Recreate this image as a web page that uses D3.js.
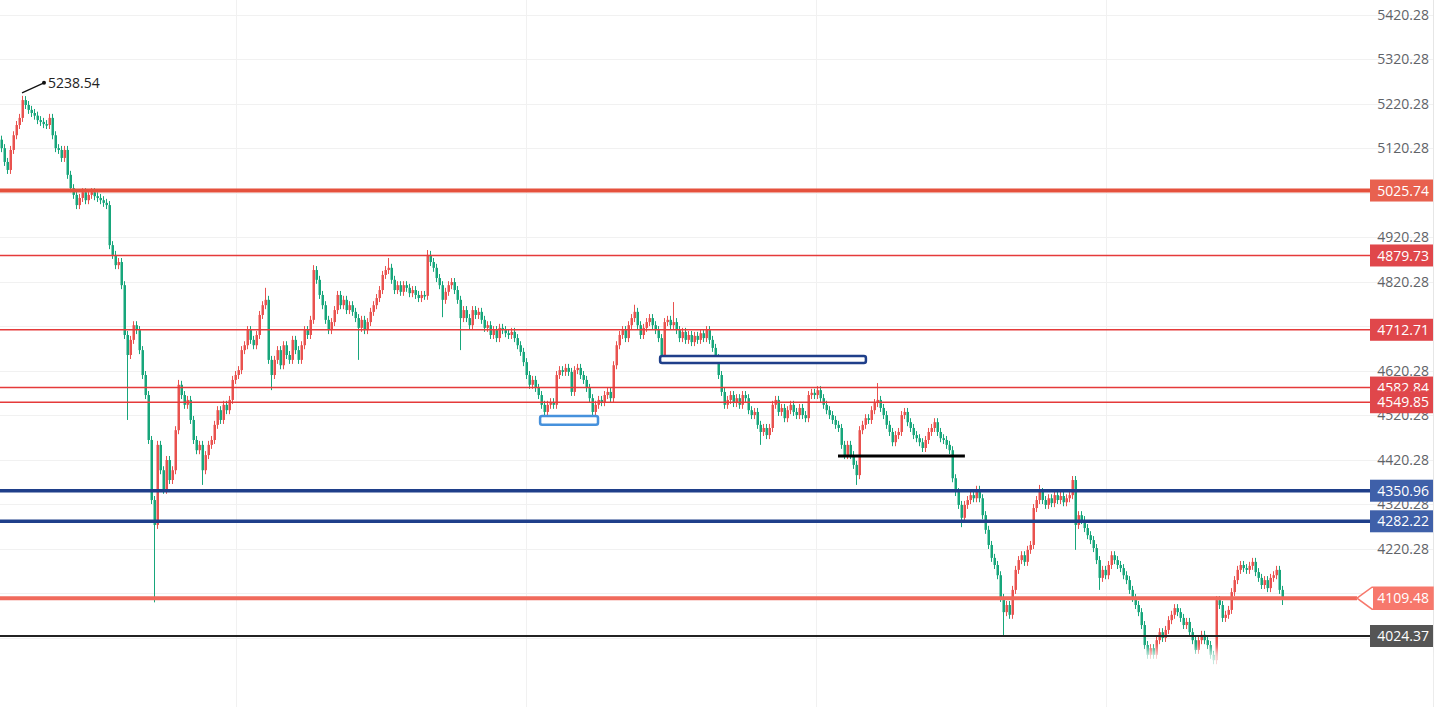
<!DOCTYPE html>
<html>
<head>
<meta charset="utf-8">
<script src="https://cdn.jsdelivr.net/npm/d3@7"></script>
<style>
  html, body { margin: 0; padding: 0; background: #fff; }
  svg { display: block; font-family: "Open Sans", "DejaVu Sans", sans-serif; }
</style>
</head>
<body>
<div id="chart"></div>
<script>
// closes, one candle per bar (open = previous close)
const firstOpen = 5140;
const closes = [
  5121, 5090, 5072, 5117, 5150, 5173, 5189, 5229, 5218, 5207,
  5200, 5194, 5184, 5180, 5175, 5173, 5189, 5150, 5121, 5117,
  5099, 5117, 5061, 5031, 5016, 4993, 5009, 5022, 5004, 5016,
  5022, 5013, 5009, 5004, 4998, 4993, 4903, 4881, 4858, 4865,
  4813, 4701, 4656, 4690, 4723, 4712, 4667, 4611, 4566, 4465,
  4330, 4274, 4454, 4397, 4353, 4420, 4375, 4397, 4487, 4589,
  4566, 4544, 4555, 4510, 4465, 4442, 4454, 4397, 4431, 4454,
  4465, 4499, 4532, 4510, 4544, 4532, 4555, 4600, 4611, 4622,
  4667, 4678, 4712, 4690, 4678, 4701, 4746, 4768, 4780, 4645,
  4611, 4645, 4667, 4633, 4678, 4656, 4645, 4690, 4667, 4645,
  4678, 4712, 4701, 4735, 4847, 4825, 4791, 4768, 4735, 4712,
  4730, 4757, 4791, 4768, 4780, 4757, 4768, 4753, 4739, 4717,
  4735, 4712, 4730, 4753, 4768, 4784, 4802, 4836, 4847, 4852,
  4825, 4802, 4813, 4798, 4813, 4807, 4795, 4802, 4791, 4784,
  4791, 4789, 4881, 4865, 4852, 4829, 4813, 4780, 4798, 4813,
  4820, 4802, 4780, 4739, 4757, 4739, 4723, 4757, 4746, 4753,
  4735, 4717, 4723, 4701, 4712, 4694, 4717, 4712, 4705, 4701,
  4708, 4694, 4678, 4663, 4640, 4611, 4589, 4600, 4582, 4566,
  4544, 4528, 4544, 4550, 4544, 4611, 4622, 4618, 4627, 4618,
  4573, 4622, 4627, 4611, 4600, 4582, 4559, 4528, 4544, 4555,
  4550, 4566, 4573, 4559, 4633, 4678, 4701, 4712, 4694, 4723,
  4739, 4753, 4723, 4701, 4717, 4730, 4739, 4723, 4712, 4694,
  4656, 4730, 4735, 4723, 4730, 4712, 4694, 4708, 4690, 4701,
  4685, 4699, 4690, 4705, 4694, 4712, 4690, 4672, 4649, 4611,
  4573, 4544, 4555, 4566, 4548, 4559, 4544, 4566, 4559, 4532,
  4521, 4528, 4499, 4483, 4492, 4476, 4492, 4544, 4555, 4528,
  4537, 4514, 4532, 4544, 4528, 4521, 4537, 4521, 4514, 4566,
  4571, 4566, 4577, 4559, 4544, 4532, 4521, 4510, 4499, 4492,
  4454, 4431, 4454, 4431, 4409, 4386, 4487, 4499, 4514, 4510,
  4532, 4548, 4555, 4537, 4521, 4499, 4483, 4460, 4476, 4483,
  4521, 4528, 4505, 4492, 4476, 4469, 4460, 4447, 4465, 4483,
  4492, 4505, 4483, 4469, 4465, 4454, 4442, 4379, 4348, 4319,
  4290, 4319, 4330, 4341, 4334, 4353, 4334, 4296, 4263, 4229,
  4200, 4184, 4161, 4110, 4078, 4094, 4072, 4128, 4173, 4195,
  4206, 4191, 4218, 4229, 4312, 4330, 4348, 4330, 4319, 4334,
  4323, 4341, 4330, 4339, 4325, 4334, 4341, 4375, 4274, 4296,
  4285, 4267, 4251, 4240, 4222, 4195, 4155, 4173, 4161, 4184,
  4206, 4195, 4184, 4177, 4161, 4150, 4128, 4110, 4094, 4078,
  4049, 4004, 3982, 3997, 3982, 4015, 4033, 4020, 4038, 4060,
  4072, 4087, 4078, 4065, 4049, 4056, 4033, 4015, 3993, 4015,
  4027, 4015, 4004, 3982, 3970, 4105, 4094, 4065, 4072, 4083,
  4123, 4150, 4173, 4184, 4177, 4173, 4182, 4191, 4168, 4155,
  4139, 4150, 4132, 4155, 4161, 4173, 4128, 4110
];

// long wicks: [candle index, price]
const spikeHighs = [[7, 5238.54], [59, 4600], [88, 4807], [104, 4858], [129, 4874], [142, 4892],
  [188, 4634], [211, 4769], [224, 4775], [292, 4593], [311, 4514], [325, 4362],
  [346, 4364], [357, 4382], [391, 4094], [417, 4200], [425, 4182]];
const spikeLows = [[42, 4510], [51, 4100], [67, 4364], [90, 4577], [119, 4645], [147, 4741],
  [153, 4667], [181, 4519], [197, 4519], [253, 4454], [285, 4364], [320, 4269],
  [334, 4024], [358, 4218], [366, 4128], [427, 4094]];

// price grid and the tick labels that stay visible beside the price tags
const gridValues = [5420.28, 5320.28, 5220.28, 5120.28, 5020.28, 4920.28, 4820.28, 4720.28,
  4620.28, 4520.28, 4420.28, 4320.28, 4220.28, 4120.28, 4020.28];
const tickValues = [5420.28, 5320.28, 5220.28, 5120.28, 4920.28, 4820.28,
  4620.28, 4520.28, 4420.28, 4320.28, 4220.28];

// horizontal levels
const levels = [
  { price: 5025.74, kind: "red-thick" },
  { price: 4879.73, kind: "red-thin" },
  { price: 4712.71, kind: "red-thin" },
  { price: 4582.84, kind: "red-thin" },
  { price: 4549.85, kind: "red-thin" },
  { price: 4350.96, kind: "blue" },
  { price: 4282.22, kind: "blue" },
  { price: 4109.48, kind: "salmon" },
  { price: 4024.37, kind: "black" }
];

// drawn boxes / segments: candle index range and price range
const boxes = [
  { i0: 179.7, i1: 199, top: 4519, bottom: 4499, kind: "lightblue" },
  { i0: 219.7, i1: 288.3, top: 4654, bottom: 4638, kind: "navy" }
];
const segments = [{ i0: 279, i1: 321.3, price: 4429 }];
const peak = { i: 7, price: 5238.54, label: "5238.54" };
const sessionBreaks = [78.33, 175, 271.67, 368.33];

const W = 1436, H = 707;
const plotRight = 1370;

const styles = {
  "red-thick": { line: "#e5513d", width: 4, box: "#e8614f" },
  "red-thin": { line: "#e53a3a", width: 1.4, box: "#e0474b" },
  "blue": { line: "#1f3f8a", width: 3.5, box: "#3f60a9" },
  "salmon": { line: "#f06a5c", width: 4, box: "#f7786c" },
  "black": { line: "#222", width: 2, box: "#555555" }
};

const candles = closes.map((c, i) => {
  const o = i === 0 ? firstOpen : closes[i - 1];
  return { i, o, c, h: Math.max(o, c) + 9, l: Math.min(o, c) - 9 };
});
spikeHighs.forEach(([i, p]) => { candles[i].h = Math.max(candles[i].h, p); });
spikeLows.forEach(([i, p]) => { candles[i].l = Math.min(candles[i].l, p); });

const x = d3.scaleLinear().domain([0, closes.length - 1]).range([1, 1282]);
const y = d3.scaleLinear().domain([4024.37, 5420.28]).range([636, 15]);

const svg = d3.select("#chart").append("svg")
  .attr("width", W).attr("height", H);

const defs = svg.append("defs");
defs.append("filter").attr("id", "blur")
  .attr("x", "-10%").attr("y", "-30%").attr("width", "120%").attr("height", "160%")
  .append("feGaussianBlur").attr("stdDeviation", 4);

// grid
svg.append("g").selectAll("line")
  .data(gridValues)
  .join("line")
  .attr("x1", 0).attr("x2", 1433)
  .attr("y1", d => Math.round(y(d)) + 0.5).attr("y2", d => Math.round(y(d)) + 0.5)
  .attr("stroke", "#f1f1f1");

svg.append("g").selectAll("line")
  .data(sessionBreaks)
  .join("line")
  .attr("x1", d => Math.round(x(d)) + 0.5).attr("x2", d => Math.round(x(d)) + 0.5)
  .attr("y1", 0).attr("y2", H)
  .attr("stroke", "#f1f1f1");

svg.append("line")
  .attr("x1", 1433.5).attr("x2", 1433.5).attr("y1", 0).attr("y2", H)
  .attr("stroke", "#e6e6e6");

// y axis labels
const axis = d3.axisLeft(y).tickValues(tickValues).tickSize(0).tickPadding(0)
  .tickFormat(d3.format(".2f"));
svg.append("g")
  .attr("transform", "translate(1429,0)")
  .call(axis)
  .call(g => g.select(".domain").remove())
  .selectAll("text")
  .attr("fill", "#5f6368")
  .style("font-size", "14px")
  .style("font-family", "'Open Sans', sans-serif");

// candles
const up = "#e9524f", down = "#17a67b";
const cg = svg.append("g");
cg.selectAll("line")
  .data(candles)
  .join("line")
  .attr("x1", d => Math.round(x(d.i)) + 0.5).attr("x2", d => Math.round(x(d.i)) + 0.5)
  .attr("y1", d => y(d.h)).attr("y2", d => y(d.l))
  .attr("stroke", d => d.c >= d.o ? up : down)
  .attr("stroke-width", 1);
cg.selectAll("rect")
  .data(candles)
  .join("rect")
  .attr("x", d => Math.round(x(d.i)) - 0.5)
  .attr("width", 2.5)
  .attr("y", d => y(Math.max(d.o, d.c)))
  .attr("height", d => Math.max(1.5, Math.abs(y(d.o) - y(d.c))))
  .attr("fill", d => d.c >= d.o ? up : down);

// washed-out watermark at the bottom right
svg.append("rect")
  .attr("x", 1112).attr("y", 650).attr("width", 320).attr("height", 60)
  .attr("fill", "#fff").attr("opacity", 0.75)
  .attr("filter", "url(#blur)");

// level lines
const lg = svg.append("g");
lg.selectAll("line")
  .data(levels)
  .join("line")
  .attr("x1", 0)
  .attr("x2", d => d.kind === "salmon" ? 1357 : plotRight)
  .attr("y1", d => y(d.price)).attr("y2", d => y(d.price))
  .attr("stroke", d => styles[d.kind].line)
  .attr("stroke-width", d => styles[d.kind].width);

// boxes and segment
const boxStroke = { lightblue: "#4691dc", navy: "#1f3f8a" };
svg.append("g").selectAll("rect")
  .data(boxes)
  .join("rect")
  .attr("x", d => x(d.i0)).attr("width", d => x(d.i1) - x(d.i0))
  .attr("y", d => y(d.top)).attr("height", d => y(d.bottom) - y(d.top))
  .attr("rx", 2)
  .attr("fill", "#fff")
  .attr("stroke", d => boxStroke[d.kind])
  .attr("stroke-width", 2.5);

svg.append("g").selectAll("line")
  .data(segments)
  .join("line")
  .attr("x1", d => x(d.i0)).attr("x2", d => x(d.i1))
  .attr("y1", d => y(d.price)).attr("y2", d => y(d.price))
  .attr("stroke", "#000").attr("stroke-width", 3);

// peak annotation
const px = x(peak.i), py = y(peak.price);
svg.append("line")
  .attr("x1", px).attr("y1", py - 3).attr("x2", px + 22).attr("y2", py - 13)
  .attr("stroke", "#111").attr("stroke-width", 1.2);
svg.append("circle").attr("cx", px + 22).attr("cy", py - 13).attr("r", 2).attr("fill", "#111");
svg.append("text")
  .attr("x", px + 26).attr("y", py - 8)
  .attr("fill", "#222").style("font-size", "14px")
  .text(peak.label);

// price tags on the right
const tg = svg.append("g");
levels.forEach(d => {
  const cy = y(d.price);
  const st = styles[d.kind];
  if (d.kind === "salmon") {
    tg.append("path")
      .attr("d", `M1357,${cy} L1372,${cy - 11} L1433,${cy - 11} L1433,${cy + 11} L1372,${cy + 11} Z`)
      .attr("fill", "#fff").attr("stroke", st.box).attr("stroke-width", 1.5);
    tg.append("rect")
      .attr("x", 1373).attr("y", cy - 11).attr("width", 60).attr("height", 22)
      .attr("fill", st.box);
  } else {
    tg.append("rect")
      .attr("x", 1370).attr("y", cy - 11).attr("width", 63).attr("height", 22)
      .attr("fill", st.box);
  }
  tg.append("text")
    .attr("x", 1429).attr("y", cy).attr("dy", "0.36em")
    .attr("text-anchor", "end")
    .attr("fill", "#fff").style("font-size", "14px")
    .text(d.price.toFixed(2));
});
</script>
</body>
</html>
